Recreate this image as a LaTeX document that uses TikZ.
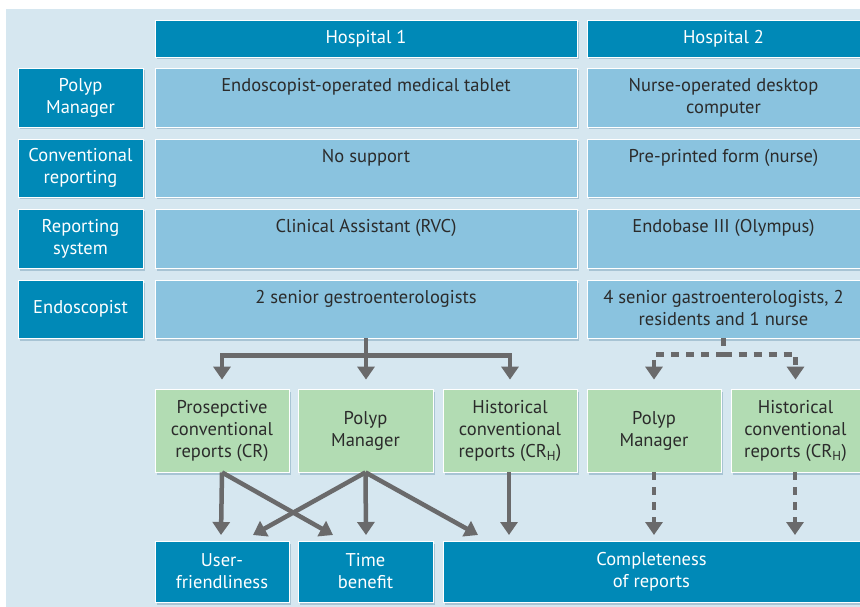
\documentclass[tikz,border=0pt]{standalone}
\usepackage{fontspec}
\setmainfont{PT Sans}
\usetikzlibrary{arrows.meta,shadows,calc}
\definecolor{bgc}{HTML}{D6E7F0}
\definecolor{darkc}{HTML}{0089B7}
\definecolor{lightc}{HTML}{8AC3DF}
\definecolor{greenc}{HTML}{B2DCB3}
\definecolor{grayc}{HTML}{6A6A6B}
\definecolor{txtc}{HTML}{2B2B2B}
\definecolor{shadc}{HTML}{9DBCCD}
\begin{document}
\begin{tikzpicture}[x=1pt,y=-1pt,
  font=\fontsize{18.5}{22}\selectfont,
  box/.style={rectangle, draw=white, line width=0.8pt, inner sep=0pt, align=center,
    drop shadow={shadow xshift=1.5pt, shadow yshift=-2.5pt, fill=shadc, opacity=0.8}},
  dbox/.style={box, fill=darkc, text=white},
  lbox/.style={box, fill=lightc},
  gbox/.style={box, fill=greenc, text=txtc},
  ctext/.style={anchor=north, inner sep=0pt, align=center, text=txtc},
  arr/.style={draw=grayc, line width=4.5pt, -{Triangle[width=17pt,length=13pt]}},
  line/.style={draw=grayc, line width=4.5pt},
  darr/.style={arr, dash pattern=on 8pt off 7pt},
  dline/.style={line, dash pattern=on 8pt off 7pt},
]
\useasboundingbox (0,0) rectangle (860,607);
\fill[bgc] (6,9) rectangle (860,607);

% headers
\node[dbox, minimum width=422pt, minimum height=37pt] (h1) at (366,38.5) {Hospital 1};
\node[dbox, minimum width=273pt, minimum height=37pt] (h2) at (723.5,38.5) {Hospital 2};

% left labels
\node[dbox, minimum width=125pt, minimum height=59pt] (l1) at (80.5,97.5) {Polyp\\Manager};
\node[dbox, minimum width=125pt, minimum height=58pt] (l2) at (80.5,168) {Conventional\\reporting};
\node[dbox, minimum width=125pt, minimum height=59pt] (l3) at (80.5,238.5) {Reporting\\system};
\node[dbox, minimum width=125pt, minimum height=58pt] (l4) at (80.5,309) {Endoscopist};

% content cells hospital 1
\node[lbox, minimum width=422pt, minimum height=59pt] (a1) at (366,97.5) {};
\node[lbox, minimum width=422pt, minimum height=58pt] (a2) at (366,168) {};
\node[lbox, minimum width=422pt, minimum height=59pt] (a3) at (366,238.5) {};
\node[lbox, minimum width=422pt, minimum height=58pt] (e1) at (366,309) {};
% content cells hospital 2
\node[lbox, minimum width=273pt, minimum height=59pt] (b1) at (723.5,97.5) {};
\node[lbox, minimum width=273pt, minimum height=58pt] (b2) at (723.5,168) {};
\node[lbox, minimum width=273pt, minimum height=59pt] (b3) at (723.5,238.5) {};
\node[lbox, minimum width=273pt, minimum height=58pt] (e2) at (723.5,309) {};

\node[ctext] (a1t) at ([yshift=-11pt]a1.north) {Endoscopist-operated medical tablet};
\node[ctext] (a2t) at ([yshift=-11pt]a2.north) {No support};
\node[ctext] (a3t) at ([yshift=-11pt]a3.north) {Clinical Assistant (RVC)};
\node[ctext] (e1t) at ([yshift=-11pt]e1.north) {2 senior gestroenterologists};
\node[ctext] (b1t) at ([yshift=-11pt]b1.north) {Nurse-operated desktop\\computer};
\node[ctext] (b2t) at ([yshift=-11pt]b2.north) {Pre-printed form (nurse)};
\node[ctext] (b3t) at ([yshift=-11pt]b3.north) {Endobase III (Olympus)};
\node[ctext] (e2t) at ([yshift=-11pt]e2.north) {4 senior gastroenterologists, 2\\residents and 1 nurse};

% green boxes
\node[gbox, minimum width=134pt, minimum height=83pt] (g1) at (222,430.5) {Prosepctive\\conventional\\reports (CR)};
\node[gbox, minimum width=135pt, minimum height=83pt] (g2) at (365.5,430.5) {Polyp\\Manager};
\node[gbox, minimum width=134pt, minimum height=83pt] (g3) at (510,430.5) {Historical\\conventional\\reports (CR\textsubscript{H})};
\node[gbox, minimum width=134pt, minimum height=83pt] (g4) at (654,430.5) {Polyp\\Manager};
\node[gbox, minimum width=129pt, minimum height=83pt] (g5) at (795.5,430.5) {Historical\\conventional\\reports (CR\textsubscript{H})};

% bottom boxes
\node[dbox, minimum width=134pt, minimum height=61pt] (uf) at (222,571.5) {User-\\friendliness};
\node[dbox, minimum width=135pt, minimum height=61pt] (tb) at (365.5,571.5) {Time\\benefit};
\node[dbox, minimum width=417pt, minimum height=61pt] (cp) at (651.5,571.5) {Completeness\\of reports};

% solid tree
\coordinate (j1) at ([yshift=-17pt]e1.south);
\draw[line] (e1.south) -- (j1);
\draw[arr, shorten >=9pt] (j1) -| (g1.north);
\draw[arr, shorten >=9pt] (j1) -| (g3.north);
\draw[arr, shorten >=9pt] (j1) -- (j1 |- g2.north);

% dashed tree
\coordinate (j2) at ([yshift=-16pt]e2.south);
\draw[dline] (e2.south) -- (j2);
\draw[darr, shorten >=9pt] (j2) -| (g4.north);
\draw[darr, shorten >=9pt] (j2) -| (g5.north);

% bottom connectors
\coordinate (uf1) at (221,535);
\coordinate (uf2) at (253,535);
\coordinate (tb1) at (333,535);
\coordinate (tb2) at (366,535);
\coordinate (cp1) at (478,535);
\coordinate (cp2) at (509,535);
\coordinate (cp3) at (654,535);
\coordinate (cp4) at (795,535);
\draw[arr] (g1.south) -- (uf1);
\draw[arr] (g1.south) -- (tb1);
\draw[arr] (g2.south) -- (uf2);
\draw[arr] (g2.south) -- (tb2);
\draw[arr] (g2.south) -- (cp1);
\draw[arr] ([xshift=-1pt]g3.south) -- (cp2);
\draw[darr] (g4.south) -- (cp3);
\draw[darr] ([xshift=-0.5pt]g5.south) -- (cp4);
\end{tikzpicture}
\end{document}
